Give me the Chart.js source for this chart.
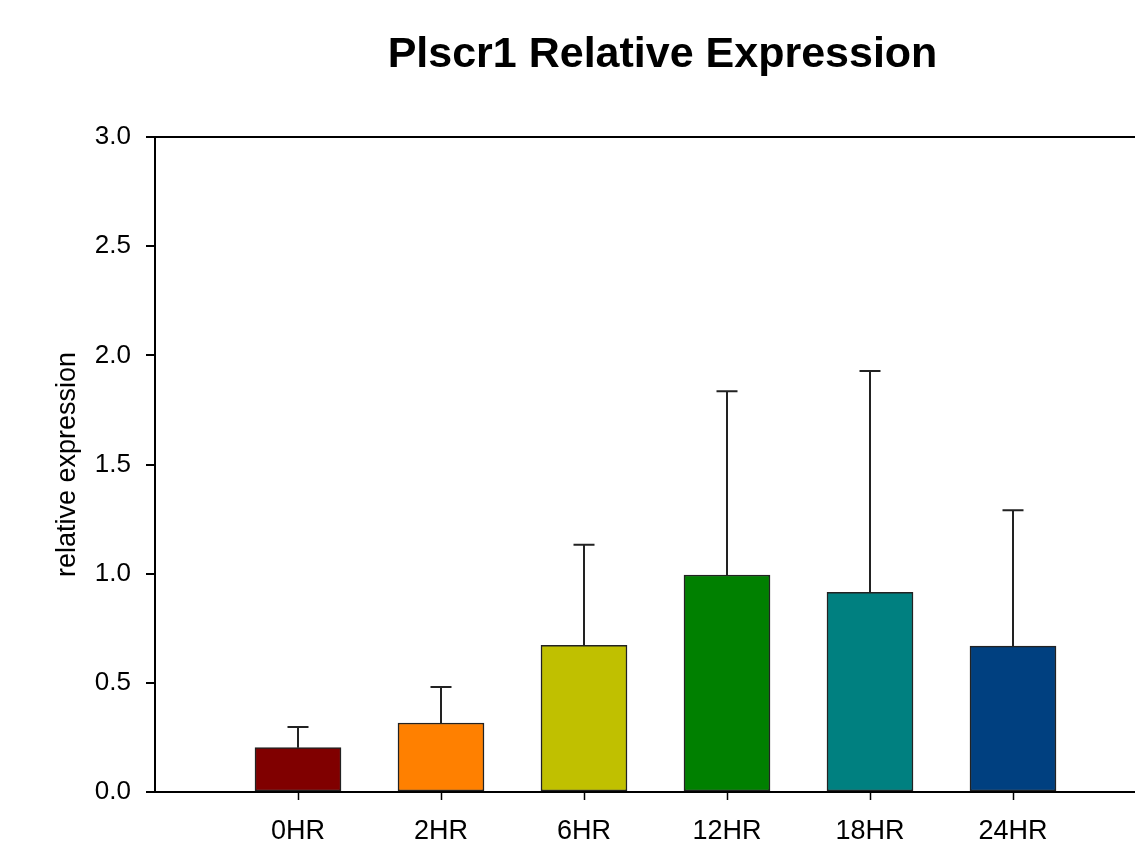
<!DOCTYPE html>
<html>
<head>
<meta charset="utf-8">
<script src="https://cdn.jsdelivr.net/npm/chart.js@4.4.0/dist/chart.umd.min.js"></script>
<style>
  html, body { margin: 0; padding: 0; overflow: hidden; background: #fff; }
</style>
</head>
<body>
<canvas id="exprChart" width="1171" height="841"></canvas>
<script>
// values
let categories = ['0HR', '2HR', '6HR', '12HR', '18HR', '24HR'];
let means = [0.203, 0.316, 0.672, 0.994, 0.914, 0.668];
let errors = [0.095, 0.165, 0.460, 0.841, 1.014, 0.623];
let barColors = ['#800000', '#ff8000', '#c0c000', '#008000', '#008080', '#004080'];
let yTicks = [0, 0.5, 1.0, 1.5, 2.0, 2.5, 3.0];

// empty slot on each side so the axis runs past the first and last bar
let labels = [''].concat(categories, ['']);
let data = [null].concat(means, [null]);
let colors = ['transparent'].concat(barColors, ['transparent']);
let errs = [null].concat(errors, [null]);

const fontFam = "'Liberation Sans', Arial, sans-serif";

const errorBars = {
    id: 'errorBars',
    afterDatasetsDraw(chart) {
        const ctx = chart.ctx;
        const y = chart.scales.y;
        const meta = chart.getDatasetMeta(0);
        ctx.save();
        ctx.strokeStyle = '#222';
        ctx.lineWidth = 2;
        meta.data.forEach((bar, i) => {
            if (data[i] == null) return;
            let top = y.getPixelForValue(data[i] + errs[i]);
            ctx.beginPath();
            ctx.moveTo(bar.x, bar.y);
            ctx.lineTo(bar.x, top);
            ctx.moveTo(bar.x - 10.5, top);
            ctx.lineTo(bar.x + 10.5, top);
            ctx.stroke();
        });
        ctx.restore();
    }
};

const mainTitle = {
    id: 'mainTitle',
    afterDraw(chart) {
        const ctx = chart.ctx;
        const area = chart.chartArea;
        ctx.save();
        ctx.fillStyle = '#000';
        ctx.font = 'bold 43px ' + fontFam;
        ctx.textAlign = 'center';
        ctx.textBaseline = 'alphabetic';
        ctx.fillText('Plscr1 Relative Expression', (area.left + area.right) / 2 + 7, 67);
        ctx.restore();
    }
};

const ctx = document.getElementById('exprChart').getContext('2d');
let exprChart = new Chart(ctx, {
    type: 'bar',
    data: {
        labels: labels,
        datasets: [{
            data: data,
            backgroundColor: colors,
            borderColor: '#222',
            borderWidth: 1.5,
            borderSkipped: false,
            barThickness: 86
        }]
    },
    options: {
        responsive: false,
        animation: false,
        devicePixelRatio: 1,
        layout: { padding: { top: 137, right: 4, left: 0, bottom: 0 } },
        plugins: {
            legend: { display: false },
            tooltip: { enabled: false }
        },
        scales: {
            x: {
                offset: false,
                afterFit: (s) => { s.height = 49; },
                border: { display: true, color: '#000', width: 2 },
                grid: {
                    offset: false,
                    drawOnChartArea: false,
                    drawTicks: true,
                    tickLength: 8,
                    tickWidth: 1.5,
                    tickColor: (c) => (c.index === 0 || c.index === labels.length - 1) ? 'transparent' : '#000'
                },
                ticks: {
                    color: '#000',
                    padding: 15,
                    maxRotation: 0,
                    autoSkip: false,
                    font: { family: fontFam, size: 27 }
                }
            },
            y: {
                min: 0,
                max: 3,
                afterFit: (s) => { s.width = 155; },
                afterBuildTicks: (s) => { s.ticks = yTicks.map(v => ({ value: v })); },
                border: { display: true, color: '#000', width: 2 },
                grid: {
                    drawOnChartArea: true,
                    drawTicks: true,
                    tickLength: 9,
                    tickColor: '#000',
                    lineWidth: 2,
                    color: (c) => (c.tick && c.tick.value === 3) ? '#000' : 'transparent'
                },
                ticks: {
                    color: '#000',
                    padding: 15,
                    font: { family: fontFam, size: 26 },
                    callback: (v) => Number(v).toFixed(1)
                },
                title: {
                    display: true,
                    text: 'relative expression',
                    color: '#000',
                    font: { family: fontFam, size: 27 },
                    padding: { top: 51, bottom: 0 }
                }
            }
        }
    },
    plugins: [errorBars, mainTitle]
});
</script>
</body>
</html>
